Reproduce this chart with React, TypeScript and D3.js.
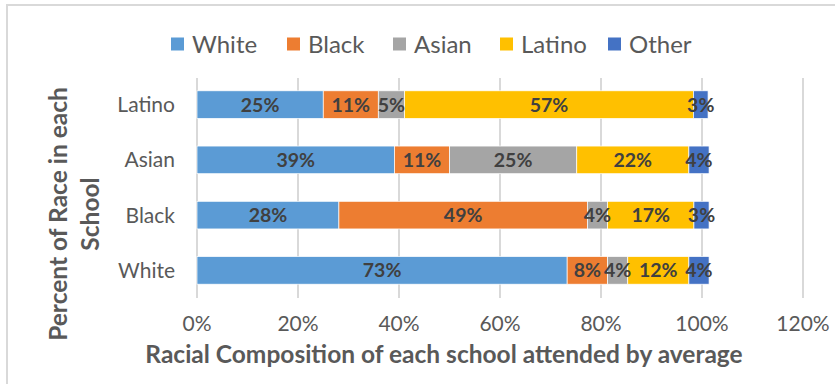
import React from "react";
import * as d3 from "d3";

const categories = ["Latino", "Asian", "Black", "White"];
const seriesNames = ["White", "Black", "Asian", "Latino", "Other"];
const seriesColors = ["#5B9BD5", "#ED7D31", "#A5A5A5", "#FFC000", "#4472C4"];
// values per category (row order as categories), per series
const whiteVals = [25.0, 39.1, 28.1, 73.3];
const blackVals = [10.9, 10.9, 49.2, 8.0];
const asianVals = [5.2, 25.2, 4.0, 4.0];
const latinoVals = [57.2, 22.2, 17.1, 12.1];
const otherVals = [2.9, 4.0, 3.0, 4.0];
const xTicks = [0, 20, 40, 60, 80, 100, 120];

const W = 835;
const H = 384;
const FONT = "Lato, 'Open Sans', sans-serif";

export default function App() {
  const series = [whiteVals, blackVals, asianVals, latinoVals, otherVals];
  const x = d3.scaleLinear().domain([0, 120]).range([197, 803]);
  const y = d3.scaleBand().domain(categories).range([77, 298]).paddingInner(0.5).paddingOuter(0.25);

  const rows = categories.map((c, ci) => {
    let acc = 0;
    return series.map((s, si) => {
      const v = s[ci];
      const seg = { cat: c, si, x0: acc, x1: acc + v, v };
      acc += v;
      return seg;
    });
  });

  const legendX = [171, 287, 393, 500, 608];

  return (
    <svg width={W} height={H} style={{ position: "absolute", left: 0, top: 0, background: "#fff" }} fontFamily={FONT}>
      <rect x={7} y={5} width={W + 10} height={H + 10} fill="none" stroke="#D9D9D9" strokeWidth={2} />
      {/* gridlines */}
      {xTicks.map((t) => (
        <line key={t} x1={x(t)} x2={x(t)} y1={78} y2={298} stroke="#D9D9D9" strokeWidth={2} />
      ))}
      {/* bars */}
      {rows.map((segs) =>
        segs.map((s) => (
          <rect
            key={s.cat + s.si}
            x={x(s.x0)}
            y={y(s.cat)}
            width={x(s.x1) - x(s.x0)}
            height={y.bandwidth()}
            fill={seriesColors[s.si]}
            stroke="#fff"
            strokeWidth={0.7}
          />
        ))
      )}
      {/* data labels */}
      {rows.map((segs) =>
        segs.map((s) => (
          <text
            key={"l" + s.cat + s.si}
            x={(x(s.x0) + x(s.x1)) / 2}
            y={(y(s.cat) as number) + y.bandwidth() / 2}
            dy="0.36em"
            textAnchor="middle"
            fontSize={19.5}
            fontWeight="bold"
            fill="#404040"
          >
            {Math.round(s.v) + "%"}
          </text>
        ))
      )}
      {/* category labels */}
      {categories.map((c) => (
        <text
          key={c}
          x={175}
          y={(y(c) as number) + y.bandwidth() / 2}
          dy="0.36em"
          textAnchor="end"
          fontSize={21}
          fill="#595959"
        >
          {c}
        </text>
      ))}
      {/* x tick labels */}
      {xTicks.map((t) => (
        <text key={"t" + t} x={x(t)} y={323} dy="0.36em" textAnchor="middle" fontSize={21} fill="#595959">
          {t + "%"}
        </text>
      ))}
      {/* x axis title */}
      <text x={444} y={354} dy="0.36em" textAnchor="middle" fontSize={24.5} fontWeight="bold" fill="#595959">
        Racial Composition of each school attended by average
      </text>
      {/* y axis title */}
      <g transform="translate(58,214) rotate(-90)">
        <text x={0} y={0} dy="0.36em" textAnchor="middle" fontSize={24.5} fontWeight="bold" fill="#595959">
          Percent of Race in each
        </text>
        <text x={0} y={32} dy="0.36em" textAnchor="middle" fontSize={24.5} fontWeight="bold" fill="#595959">
          School
        </text>
      </g>
      {/* legend */}
      {seriesNames.map((n, i) => (
        <g key={n} transform={`translate(${legendX[i]},44)`}>
          <rect x={0} y={-6.5} width={13} height={13} fill={seriesColors[i]} />
          <text x={21} y={0} dy="0.36em" fontSize={24} fill="#595959">
            {n}
          </text>
        </g>
      ))}
    </svg>
  );
}
